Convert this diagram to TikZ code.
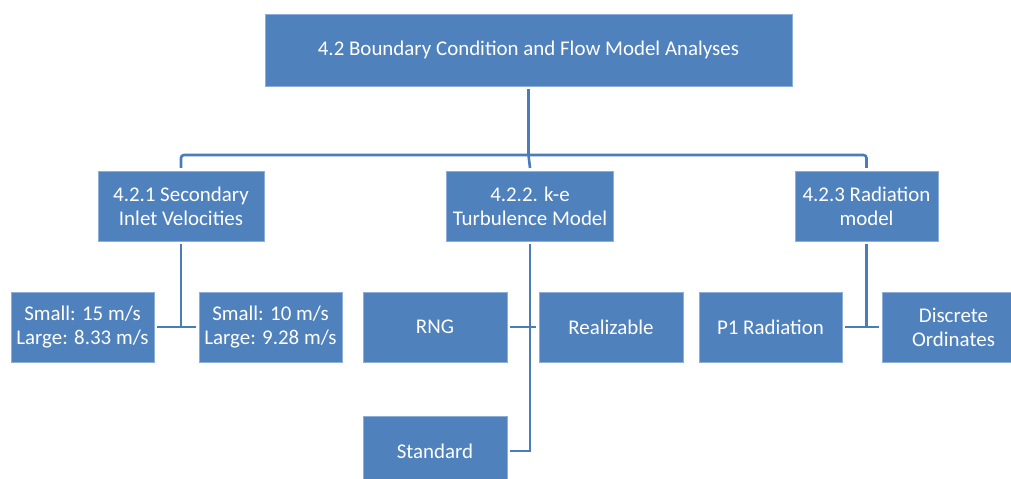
\documentclass[tikz,border=0pt]{standalone}
\usepackage{fontspec}
\setmainfont{Carlito}
\usetikzlibrary{positioning}
\usetikzlibrary{calc}
\definecolor{boxblue}{HTML}{4F81BD}
\definecolor{boxedge}{HTML}{8EAEDA}
\definecolor{linkblue}{HTML}{4A7CB8}
\tikzset{bx/.style={draw=boxedge,line width=0.8bp,fill=boxblue,text=white,align=center,
  inner sep=0pt,outer sep=3bp,font=\fontsize{21}{24}\selectfont}}
\tikzset{lk/.style={draw=linkblue,line width=2.6bp}}

\begin{document}
\begin{tikzpicture}[x=1bp,y=-1bp]
\useasboundingbox (0,0) rectangle (1011,479);
\begin{scope}
\clip (0,0) rectangle (1011,479);
\node[bx,minimum width=527bp,minimum height=72bp] (T) at (528.5,50) {4.2 Boundary Condition and Flow Model Analyses};

\node[bx,minimum width=166bp,minimum height=70bp] (S1) at (181,206) {4.2.1 Secondary\\Inlet Velocities};
\node[bx,minimum width=167bp,minimum height=70bp] (S2) at (530,206) {4.2.2. k-e\\Turbulence Model};
\node[bx,minimum width=143bp,minimum height=70bp] (S3) at (866.5,206) {4.2.3 Radiation\\model};

\node[bx,minimum width=143bp,minimum height=70bp] (V1) at (82.5,327) {Small: 15 m/s\\Large: 8.33 m/s};
\node[bx,minimum width=143bp,minimum height=70bp] (V2) at (270.5,327) {Small: 10 m/s\\Large: 9.28 m/s};

\node[bx,minimum width=144bp,minimum height=70bp] (RNG) at (435,327) {RNG};
\node[bx,minimum width=144bp,minimum height=70bp] (Real) at (611,327) {Realizable};
\node[bx,minimum width=144bp,minimum height=70bp] (Std) at (435,451) {Standard};

\node[bx,minimum width=143bp,minimum height=70bp] (P1) at (770.5,327) {P1 Radiation};
\node[bx,minimum width=143bp,minimum height=70bp] (DO) at (953.5,327) {Discrete\\Ordinates};
\end{scope}

\coordinate (bus) at (T.south |- 0,155);
\draw[lk] (T.south) -- (bus);
\draw[lk,rounded corners=3bp] (S1.north) |- (bus) -| (S3.north);
\draw[lk] (bus) -- (S2.north);

\draw[lk] (S1.south) -- (S1.south |- V1.east);
\draw[lk] (V1.east) -- (V2.west);

\draw[lk] (S2.south) |- (Std.east);
\draw[lk] (RNG.east) -- (Real.west);

\draw[lk] (S3.south) -- (S3.south |- P1.east);
\draw[lk] (P1.east) -- (DO.west);
\end{tikzpicture}
\end{document}
